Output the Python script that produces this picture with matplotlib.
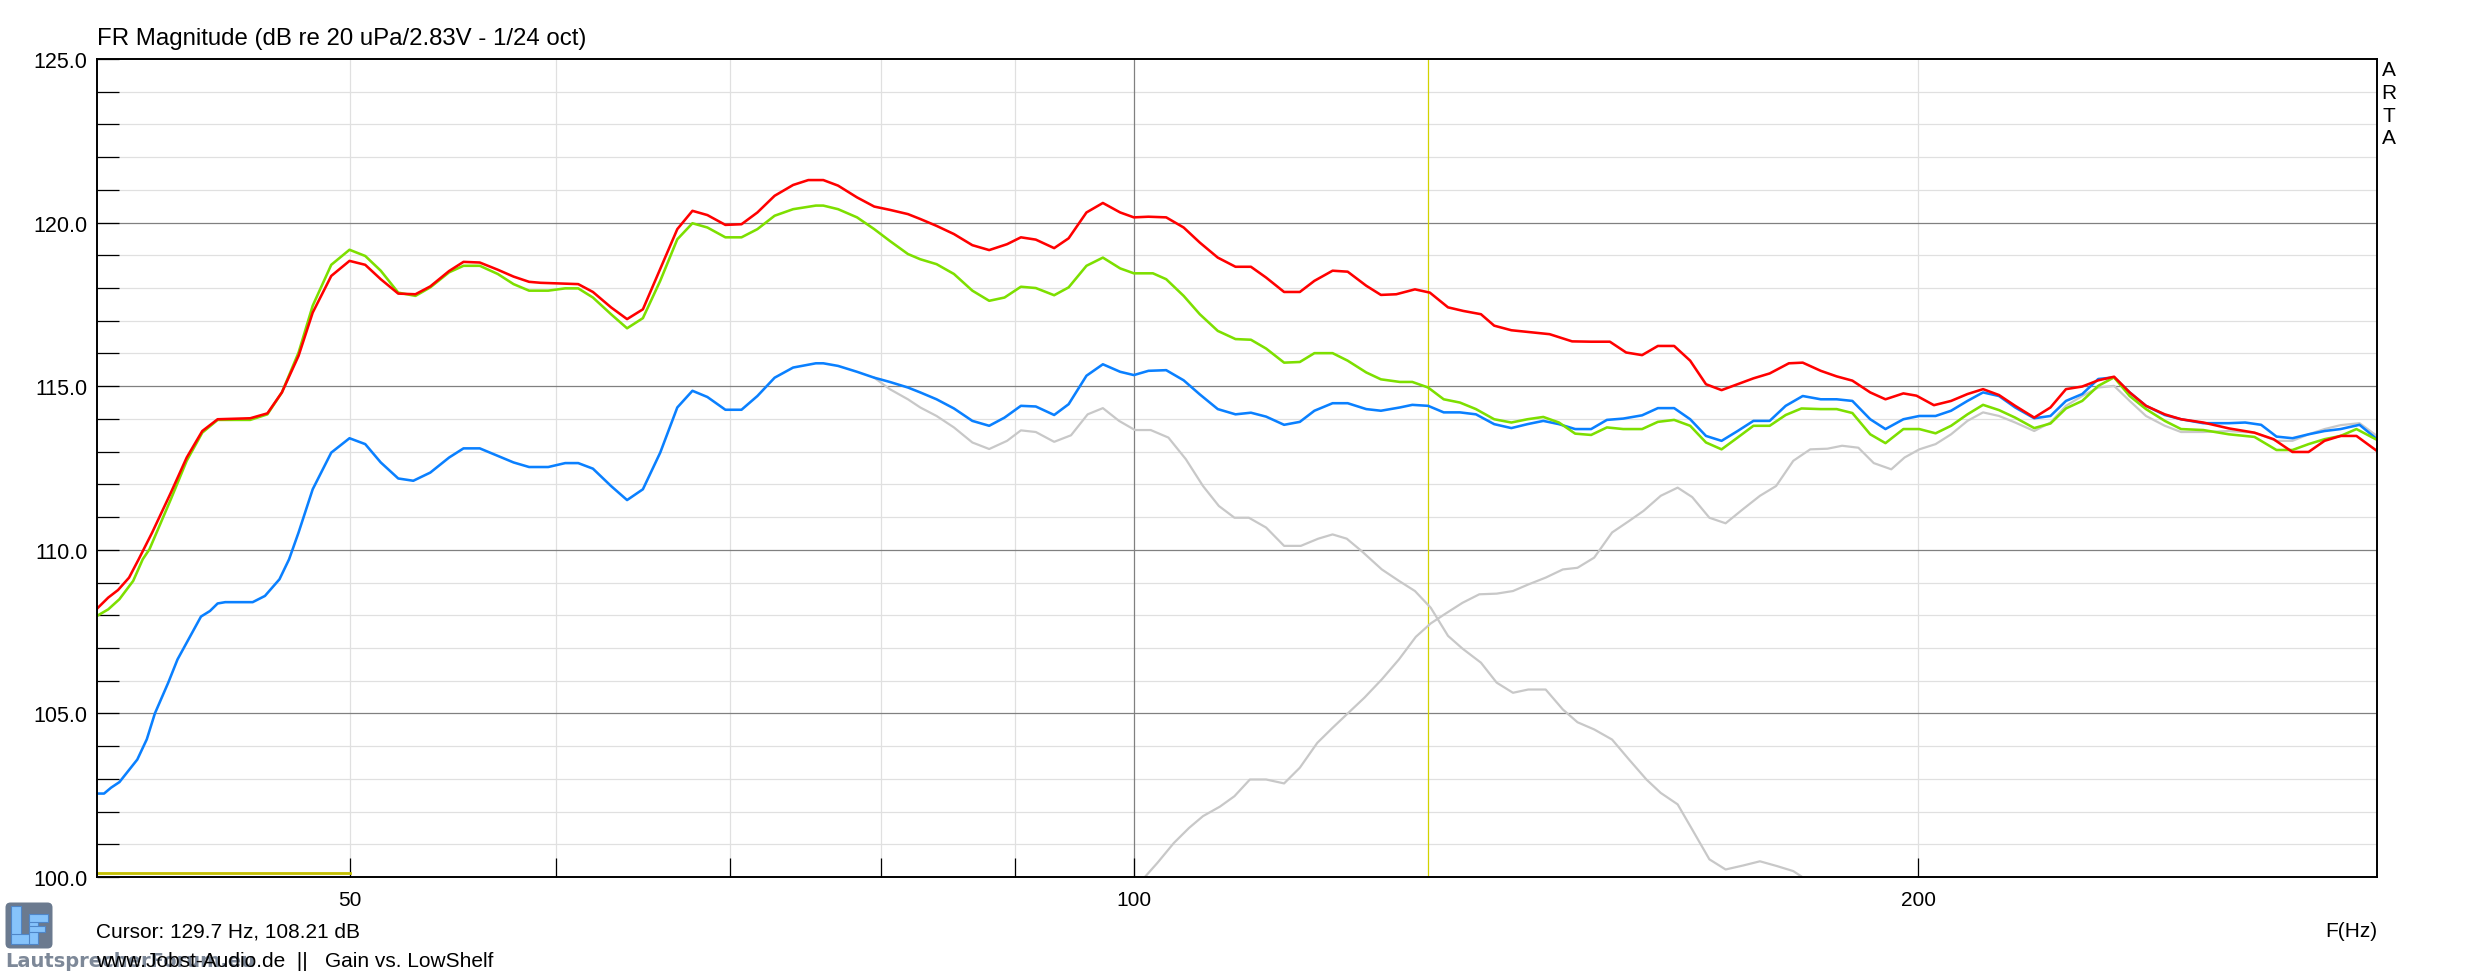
import matplotlib
matplotlib.use("Agg")
import matplotlib.pyplot as plt
from matplotlib.ticker import NullFormatter
from matplotlib.patches import FancyBboxPatch, Rectangle

plt.rcParams['font.family'] = ['Liberation Sans', 'DejaVu Sans']

# ---------------- data (Hz, dB) ----------------
red_pts = [(40.0,108.20),(40.4,108.54),(40.75,108.77),(41.15,109.15),(41.5,109.71),(42.0,110.53),(42.7,111.75),
 (43.3,112.82),(43.9,113.63),(44.5,113.99),(45.8,114.02),(46.5,114.17),(47.1,114.81),(47.8,115.93),(48.4,117.25),
 (49.2,118.37),(50.0,118.83),(50.7,118.71),(51.4,118.27),(52.2,117.83),(53.0,117.81),(53.7,118.05),(54.6,118.52),
 (55.3,118.80),(56.1,118.78),(57.0,118.56),(57.8,118.35),(58.6,118.19),(59.2,118.16),(61.2,118.12),(62.0,117.88),
 (63.0,117.41),(63.9,117.05),(64.8,117.35),(65.8,118.58),(66.8,119.80),(67.7,120.36),(68.6,120.23),(69.7,119.93),
 (70.7,119.95),(71.7,120.31),(72.8,120.82),(74.0,121.15),(75.0,121.30),(76.0,121.30),(77.0,121.13),(78.3,120.77),
 (79.5,120.49),(80.6,120.39),(81.9,120.26),(82.8,120.11),(84.0,119.90),(85.3,119.65),(86.7,119.31),(88.0,119.16),
 (89.4,119.34),(90.5,119.55),(91.7,119.48),(93.2,119.22),(94.4,119.52),(95.9,120.31),(97.3,120.60),(98.8,120.31),
 (100.0,120.16),(101.3,120.18),(102.9,120.16),(104.5,119.85),(106.0,119.39),(107.7,118.93),(109.4,118.65),
 (110.9,118.65),(112.4,118.32),(114.2,117.88),(115.8,117.88),(117.3,118.22),(119.2,118.53),(120.8,118.50),
 (122.8,118.07),(124.4,117.79),(126.1,117.81),(128.2,117.96),(129.9,117.86),(132.0,117.41),(133.8,117.30),
 (135.9,117.20),(137.5,116.85),(139.6,116.71),(141.6,116.66),(144.4,116.59),(147.3,116.37),(149.8,116.36),
 (152.3,116.36),(154.5,116.03),(156.7,115.95),(158.9,116.23),(161.2,116.23),(163.5,115.78),(165.8,115.06),
 (168.1,114.88),(170.5,115.06),(172.9,115.24),(175.4,115.39),(178.4,115.70),(180.6,115.72),(183.5,115.47),
 (186.1,115.30),(188.7,115.17),(191.7,114.81),(194.3,114.60),(197.4,114.78),(199.7,114.71),(202.8,114.42),
 (205.9,114.55),(208.9,114.76),(211.8,114.91),(214.8,114.73),(217.9,114.40),(221.6,114.04),(224.8,114.35),
 (227.9,114.91),(231.2,114.99),(234.5,115.18),(237.8,115.29),(241.1,114.81),(244.6,114.40),(248.7,114.14),
 (252.3,113.99),(257.3,113.89),(263.2,113.71),(269.2,113.58),(273.8,113.38),(278.4,112.99),(282.4,112.99),
 (286.4,113.33),(290.5,113.48),(294.6,113.48),(300.0,113.02)]

green_pts = [(40.0,107.98),(40.4,108.18),(40.8,108.49),(41.3,109.05),(41.65,109.71),(41.9,110.02),(42.7,111.55),
 (43.3,112.72),(43.9,113.58),(44.5,113.97),(45.8,113.97),(46.5,114.14),(47.1,114.81),(47.8,116.03),(48.4,117.46),
 (49.2,118.71),(50.0,119.17),(50.7,118.98),(51.4,118.53),(52.2,117.86),(53.0,117.76),(53.7,118.02),(54.6,118.48),
 (55.3,118.68),(56.1,118.68),(57.0,118.43),(57.8,118.12),(58.6,117.92),(59.6,117.92),(60.5,117.99),(61.2,117.99),
 (62.0,117.71),(63.0,117.20),(63.9,116.77),(64.8,117.08),(65.8,118.22),(66.8,119.49),(67.7,119.98),(68.6,119.85),
 (69.7,119.55),(70.7,119.55),(71.7,119.80),(72.8,120.21),(74.0,120.41),(75.5,120.52),(76.0,120.52),(77.0,120.41),
 (78.3,120.16),(79.5,119.80),(80.6,119.44),(81.9,119.04),(82.8,118.88),(84.0,118.73),(85.3,118.43),(86.7,117.92),
 (88.0,117.61),(89.2,117.71),(90.5,118.04),(91.7,118.00),(93.2,117.78),(94.4,118.02),(95.9,118.68),(97.3,118.93),
 (98.8,118.60),(100.0,118.45),(101.7,118.45),(102.9,118.27),(104.5,117.76),(106.0,117.20),(107.7,116.69),
 (109.4,116.44),(110.9,116.42),(112.4,116.15),(114.2,115.72),(115.8,115.74),(117.3,116.01),(119.2,116.01),
 (120.8,115.78),(122.8,115.42),(124.4,115.21),(126.5,115.13),(127.9,115.13),(129.7,114.96),(131.5,114.60),
 (133.4,114.50),(135.3,114.30),(137.5,113.99),(139.6,113.89),(141.6,113.99),(143.6,114.06),(145.6,113.89),
 (147.7,113.55),(149.8,113.51),(151.9,113.74),(154.1,113.69),(156.7,113.69),(158.9,113.91),(161.2,113.97),
 (163.5,113.79),(165.8,113.28),(168.1,113.07),(170.5,113.43),(172.9,113.79),(175.4,113.79),(177.9,114.12),
 (180.4,114.32),(183.5,114.30),(186.1,114.30),(188.7,114.18),(191.7,113.53),(194.3,113.26),(197.4,113.69),
 (200.2,113.69),(203.1,113.56),(205.9,113.79),(208.9,114.14),(211.8,114.43),(214.8,114.27),(217.9,114.04),
 (221.6,113.72),(224.8,113.86),(227.9,114.32),(231.2,114.55),(234.5,115.01),(237.8,115.27),(241.1,114.70),
 (244.6,114.30),(248.7,113.94),(252.3,113.69),(257.3,113.66),(263.2,113.53),(269.2,113.45),(274.5,113.05),
 (278.4,113.05),(282.4,113.23),(286.4,113.38),(290.5,113.48),(294.6,113.69),(300.0,113.36)]

blue_pts = [(40.0,102.55),(40.25,102.55),(40.5,102.73),(40.8,102.90),(41.15,103.27),(41.45,103.59),(41.8,104.21),
 (42.1,105.00),(42.6,105.94),(42.95,106.65),(43.3,107.16),(43.85,107.96),(44.2,108.13),(44.5,108.36),(44.8,108.40),
 (45.9,108.40),(46.4,108.59),(47.0,109.10),(47.4,109.71),(47.8,110.53),(48.4,111.85),(49.2,112.97),(50.0,113.41),
 (50.7,113.23),(51.4,112.67),(52.2,112.18),(52.9,112.11),(53.7,112.36),(54.6,112.82),(55.3,113.10),(56.1,113.10),
 (57.0,112.87),(57.8,112.67),(58.6,112.53),(59.6,112.53),(60.5,112.65),(61.2,112.65),(62.0,112.48),(63.0,111.95),
 (63.9,111.52),(64.8,111.85),(65.8,112.97),(66.8,114.35),(67.7,114.86),(68.6,114.67),(69.7,114.28),(70.7,114.28),
 (71.7,114.70),(72.8,115.26),(74.0,115.57),(75.5,115.70),(76.0,115.70),(77.0,115.62),(78.3,115.44),(79.5,115.26),
 (80.6,115.13),(81.9,114.96),(82.8,114.81),(84.0,114.60),(85.3,114.32),(86.7,113.94),(88.0,113.79),(89.2,114.04),
 (90.5,114.40),(91.7,114.38),(93.2,114.12),(94.4,114.45),(95.9,115.32),(97.3,115.67),(98.8,115.44),(100.0,115.34),
 (101.3,115.47),(102.9,115.49),(104.5,115.18),(106.0,114.75),(107.7,114.30),(109.4,114.14),(110.9,114.19),
 (112.4,114.07),(114.2,113.82),(115.8,113.91),(117.3,114.25),(119.2,114.48),(120.8,114.48),(122.8,114.30),
 (124.4,114.25),(126.5,114.35),(127.9,114.43),(129.7,114.40),(131.5,114.20),(133.4,114.20),(135.3,114.14),
 (137.5,113.84),(139.6,113.72),(141.6,113.84),(143.6,113.94),(145.6,113.84),(147.7,113.69),(149.8,113.69),
 (151.9,113.97),(154.1,114.01),(156.7,114.11),(158.9,114.33),(161.2,114.33),(163.5,113.99),(165.8,113.48),
 (168.1,113.33),(170.5,113.63),(172.9,113.94),(175.4,113.94),(177.9,114.40),(180.6,114.70),(183.5,114.60),
 (186.1,114.60),(188.7,114.55),(191.7,113.99),(194.3,113.69),(197.4,113.99),(200.2,114.09),(203.1,114.09),
 (205.9,114.25),(208.9,114.55),(211.8,114.81),(214.8,114.70),(217.9,114.35),(221.6,114.02),(224.8,114.09),
 (227.9,114.55),(231.2,114.76),(234.5,115.22),(237.8,115.27),(241.1,114.81),(244.6,114.40),(248.7,114.12),
 (252.3,113.99),(257.3,113.87),(263.2,113.87),(267.0,113.89),(270.8,113.82),(274.5,113.46),(278.4,113.41),
 (282.4,113.53),(286.4,113.63),(290.5,113.69),(295.4,113.82),(300.0,113.38)]

gray_lp_pts = [(79.5,115.26),(80.6,114.91),(81.9,114.60),(82.8,114.35),(84.0,114.09),(85.3,113.74),(86.7,113.28),
 (88.0,113.08),(89.4,113.33),(90.5,113.65),(91.7,113.60),(93.2,113.30),(94.6,113.50),(96.0,114.14),(97.3,114.33),
 (98.7,113.94),(100.1,113.66),(101.5,113.66),(103.1,113.43),(104.7,112.77),(106.3,111.95),(107.8,111.34),
 (109.3,110.98),(110.7,110.98),(112.4,110.68),(114.2,110.12),(115.9,110.12),(117.7,110.34),(119.2,110.47),
 (120.7,110.34),(122.3,109.96),(124.5,109.40),(126.4,109.05),(128.2,108.74),(130.0,108.23),(132.0,107.37),
 (133.7,106.98),(135.9,106.55),(137.8,105.94),(139.8,105.63),(141.7,105.73),(143.9,105.73),(146.1,105.12),
 (148.0,104.73),(150.2,104.51),(152.6,104.20),(154.9,103.59),(157.3,102.98),(159.3,102.57),(161.7,102.22),
 (163.8,101.45),(166.3,100.54),(168.7,100.23),(171.3,100.35),(173.9,100.48),(176.6,100.33),(179.1,100.18),
 (180.6,99.99),(184.0,99.60)]

gray_hp_pts = [(100.5,99.90),(100.9,99.97),(102.1,100.43),(103.6,101.04),(105.0,101.50),(106.3,101.86),
 (107.9,102.15),(109.3,102.47),(110.8,102.98),(112.4,102.98),(114.2,102.86),(115.8,103.34),(117.6,104.10),
 (119.2,104.56),(120.7,104.97),(122.6,105.48),(124.5,106.04),(126.4,106.65),(128.3,107.34),(130.0,107.75),
 (131.6,108.03),(133.7,108.38),(135.7,108.64),(137.8,108.66),(139.8,108.74),(141.7,108.94),(143.9,109.15),
 (146.1,109.40),(148.0,109.45),(150.2,109.76),(152.6,110.53),(154.9,110.88),(156.9,111.19),(159.3,111.65),
 (161.7,111.90),(163.8,111.61),(166.3,110.98),(168.7,110.81),(171.3,111.24),(173.9,111.65),(176.4,111.95),
 (179.1,112.72),(181.8,113.07),(184.6,113.09),(187.0,113.18),(189.7,113.12),(192.3,112.65),(195.3,112.46),
 (197.6,112.82),(200.2,113.07),(203.1,113.23),(205.9,113.53),(208.9,113.94),(211.8,114.20),(214.8,114.09),
 (217.9,113.89),(221.6,113.63),(224.8,113.89),(227.9,114.40),(231.2,114.70),(234.5,114.96),(237.8,115.01),
 (241.1,114.55),(244.6,114.09),(248.7,113.79),(252.3,113.60),(257.3,113.60),(263.2,113.63),(269.2,113.58),
 (274.5,113.33),(278.4,113.33),(282.4,113.53),(286.4,113.69),(290.5,113.81),(295.4,113.87),(300.0,113.48)]

yellow_f = [40.0, 50.0]
yellow_db = [100.12, 100.12]

cursor_f = 129.7
cursor_db = 108.21

x_major = [50, 100, 200]
x_major_labels = ['50', '100', '200']
x_minor = [60, 70, 80, 90]
x_light_grid = [50, 60, 70, 80, 90, 200]
x_dark_grid = [100]
y_major = [100, 105, 110, 115, 120, 125]
y_minor = list(range(100, 126))

title = "FR Magnitude (dB re 20 uPa/2.83V - 1/24 oct)"
footer1 = "Cursor: %.1f Hz, %.2f dB" % (cursor_f, cursor_db)
footer2 = "www.Jobst-Audio.de  ||   Gain vs. LowShelf"

# ---------------- figure ----------------
W, H = 2473, 978
fig = plt.figure(figsize=(W / 100, H / 100), dpi=100)
L, R, T, B = 97, 2377, 60, 878
ax = fig.add_axes([L / W, 1 - B / H, (R - L) / W, (B - T) / H])
ax.set_xscale('log')
ax.set_xlim(40, 300)
ax.set_ylim(100, 125)

# grid
for v in y_minor:
    if v % 5 != 0:
        ax.axhline(v, color='#e0e0e0', lw=0.9, zorder=1)
for v in y_major[1:-1]:
    ax.axhline(v, color='#808080', lw=0.9, zorder=1.2)
for v in x_light_grid:
    ax.axvline(v, color='#e0e0e0', lw=0.9, zorder=1.1)
for v in x_dark_grid:
    ax.axvline(v, color='#808080', lw=0.9, zorder=1.2)

# cursor
ax.axvline(cursor_f, color='#d2d200', lw=0.9, zorder=1.5)

# curves
def draw(pts, color, lw, z):
    fs = [p[0] for p in pts]
    ds = [p[1] for p in pts]
    ax.plot(fs, ds, color=color, lw=lw, zorder=z, solid_joinstyle='round')

draw(gray_lp_pts, '#c8c8c8', 1.6, 2)
draw(gray_hp_pts, '#c8c8c8', 1.6, 2)
draw(blue_pts, '#0a80ff', 1.85, 3)
draw(green_pts, '#7ddf00', 1.85, 4)
draw(red_pts, '#ff0000', 1.85, 5)
ax.plot(yellow_f, yellow_db, color='#c4c000', lw=2.0, zorder=3)

# ticks
ax.set_xticks(x_major, x_major_labels)
ax.set_xticks(x_minor, minor=True)
ax.xaxis.set_minor_formatter(NullFormatter())
ax.set_yticks(y_major, ['%.1f' % v for v in y_major])
ax.set_yticks(y_minor, minor=True)
ax.yaxis.set_minor_formatter(NullFormatter())
ax.tick_params(axis='x', which='both', direction='in', length=13.9, width=0.9,
               pad=9.5, labelsize=15, top=False, colors='black')
ax.tick_params(axis='y', which='both', direction='in', length=16, width=0.9,
               pad=7, labelsize=15.5, right=False, colors='black')
for s in ax.spines.values():
    s.set_linewidth(1.4)
    s.set_color('black')
    s.set_zorder(6)

# texts
fig.text(L / W, 1 - 39.5 / H, title, fontsize=17.3, ha='left', va='center')
for i, ch in enumerate("ARTA"):
    fig.text(2389 / W, 1 - (71 + 22.5 * i) / H, ch, fontsize=15, ha='center', va='center')
fig.text(R / W, 1 - 932 / H, "F(Hz)", fontsize=15, ha='right', va='center')
fig.text(5 / W, 1 - 962 / H, "LautsprecherForum.eu", fontsize=14, ha='left', va='center',
         color='#7d8898', family='DejaVu Sans', fontweight='bold', zorder=1)
fig.text(96 / W, 1 - 932 / H, footer1, fontsize=15, ha='left', va='center', zorder=2)
fig.text(96 / W, 1 - 962 / H, footer2, fontsize=15, ha='left', va='center', zorder=2)

# logo
lax = fig.add_axes([5 / W, 1 - 950 / H, 48 / W, 47 / H])
lax.set_xlim(0, 48)
lax.set_ylim(0, 47)
lax.axis('off')
lax.add_patch(FancyBboxPatch((0.5, 0.5), 47, 46, boxstyle='round,pad=0,rounding_size=5',
                             fc='#6b7a8f', ec='none'))
letter = dict(fc='#86c3fb', ec='#4f86c8', lw=0.8)
lax.add_patch(Rectangle((6, 5), 10, 38, **letter))
lax.add_patch(Rectangle((6, 5), 23, 10, **letter))
lax.add_patch(Rectangle((24, 5), 8.5, 30, **letter))
lax.add_patch(Rectangle((24, 26.7), 19, 8.3, **letter))
lax.add_patch(Rectangle((24, 16.7), 15.6, 6.6, **letter))

fig.savefig('out.png', dpi=100, facecolor='white')
